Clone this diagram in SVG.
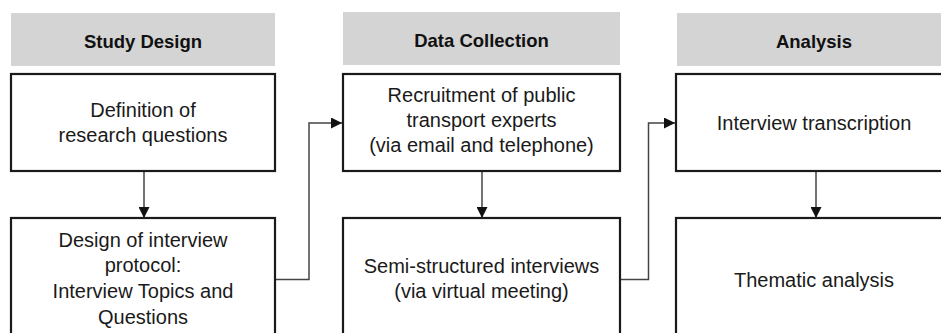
<svg xmlns="http://www.w3.org/2000/svg" width="941" height="333" viewBox="0 0 941 333">
  <defs>
    <marker id="arrow" viewBox="0 0 10 10" refX="10" refY="5" markerWidth="11" markerHeight="11" markerUnits="userSpaceOnUse" orient="auto">
      <path d="M0,0 L10,5 L0,10 Z" fill="#111"/>
    </marker>
    <style>
      .head { fill: #d4d4d4; }
      .head-text { font-family: "Liberation Sans", Arial, sans-serif; font-weight: bold; font-size: 18.5px; fill: #111; text-anchor: middle; }
      .box { fill: #fff; stroke: #1a1a1a; stroke-width: 2.2; }
      .label { font-family: "Liberation Sans", Arial, sans-serif; font-size: 20px; fill: #1a1a1a; text-anchor: middle; }
      .link { fill: none; stroke: #444; stroke-width: 1.5; }
    </style>
  </defs>
  <rect width="941" height="333" fill="#fff"/>

  <!-- column headers -->
  <g id="header-study-design">
    <rect class="head" x="11" y="13" width="264" height="53"/>
    <text class="head-text" x="143" y="48">Study Design</text>
  </g>
  <g id="header-data-collection">
    <rect class="head" x="343" y="12" width="277" height="53"/>
    <text class="head-text" x="481.5" y="47">Data Collection</text>
  </g>
  <g id="header-analysis">
    <rect class="head" x="677" y="13" width="277" height="53"/>
    <text class="head-text" x="814" y="48">Analysis</text>
  </g>

  <!-- connectors -->
  <g id="connectors">
    <line class="link" x1="144" y1="171" x2="144" y2="218" marker-end="url(#arrow)"/>
    <line class="link" x1="482" y1="171" x2="482" y2="218" marker-end="url(#arrow)"/>
    <line class="link" x1="816" y1="171" x2="816" y2="218" marker-end="url(#arrow)"/>
    <polyline class="link" points="275,279.5 309,279.5 309,123 342,123" marker-end="url(#arrow)"/>
    <polyline class="link" points="620,279.5 648.5,279.5 648.5,123 675,123" marker-end="url(#arrow)"/>
  </g>

  <!-- Study Design steps -->
  <g id="node-research-questions">
    <rect class="box" x="11" y="74" width="264" height="97"/>
    <text class="label" x="143" y="117">Definition of</text>
    <text class="label" x="143" y="142">research questions</text>
  </g>
  <g id="node-interview-protocol">
    <rect class="box" x="11" y="218" width="264" height="125"/>
    <text class="label" x="143" y="247">Design of interview</text>
    <text class="label" x="143" y="272">protocol:</text>
    <text class="label" x="143" y="298">Interview Topics and</text>
    <text class="label" x="143" y="324">Questions</text>
  </g>

  <!-- Data Collection steps -->
  <g id="node-recruitment">
    <rect class="box" x="343" y="74" width="277" height="97"/>
    <text class="label" x="481.5" y="102">Recruitment of public</text>
    <text class="label" x="481.5" y="127">transport experts</text>
    <text class="label" x="481.5" y="152">(via email and telephone)</text>
  </g>
  <g id="node-interviews">
    <rect class="box" x="343" y="218" width="277" height="125"/>
    <text class="label" x="481.5" y="273">Semi-structured interviews</text>
    <text class="label" x="481.5" y="298">(via virtual meeting)</text>
  </g>

  <!-- Analysis steps -->
  <g id="node-transcription">
    <rect class="box" x="676" y="74" width="278" height="97"/>
    <text class="label" x="814" y="130">Interview transcription</text>
  </g>
  <g id="node-thematic-analysis">
    <rect class="box" x="676" y="218" width="278" height="125"/>
    <text class="label" x="814" y="287">Thematic analysis</text>
  </g>
</svg>
